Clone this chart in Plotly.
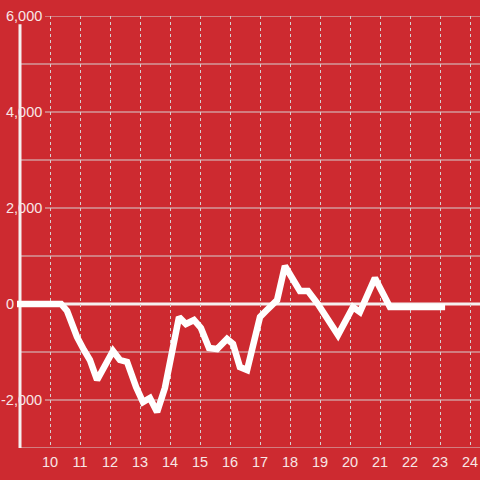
import plotly.graph_objects as go

# data (hour of day, value)
x_vals = [8.9, 10.37, 10.57, 10.9, 11.13, 11.33, 11.57, 11.8, 12.1, 12.33, 12.57, 12.87,
          13.1, 13.33, 13.57, 13.83, 14.07, 14.3, 14.53, 14.8, 15.03, 15.3, 15.57, 15.9,
          16.1, 16.33, 16.57, 17.0, 17.23, 17.57, 17.83, 18.33, 18.6, 18.93, 19.6, 20.1,
          20.33, 20.83, 21.33, 23.17]
y_vals = [0, 0, -146, -688, -958, -1167, -1583, -1313, -979, -1167, -1208, -1729,
          -2042, -1958, -2250, -1750, -1000, -271, -417, -333, -500, -917, -938, -729,
          -833, -1313, -1375, -271, -125, 83, 792, 271, 271, 0, -646, -63,
          -167, 542, -63, -63]

x_ticks = list(range(10, 25))
x_tick_labels = [str(v) for v in x_ticks]
y_label_vals = [6000, 4000, 2000, 0, -2000]
y_label_texts = ["6,000", "4,000", "2,000", "0", "-2,000"]
y_minor_vals = [5000, 3000, 1000, -1000, -3000]

BG = "#cd2a30"
TXT = "#f8e6e6"
GRID = "#d6d0d0"
FONT = "Liberation Sans, Arial, sans-serif"

X_MIN, X_MAX = 8.9, 24.333
Y_MIN, Y_MAX = -3000, 6000
AXIS_X = 9

fig = go.Figure()
fig.add_trace(go.Scatter(x=x_vals, y=y_vals, mode="lines",
                         line=dict(color="#ffffff", width=6.5), hoverinfo="skip"))

plot_left_px = 17
plot_w_px = 463


def px_to_paper(px):
    return (px - plot_left_px) / plot_w_px


shapes = []
# horizontal gridlines
for v in y_label_vals:
    if v == 0:
        continue
    shapes.append(dict(type="line", xref="paper", yref="y", x0=px_to_paper(45), x1=1,
                       y0=v, y1=v, line=dict(color=GRID, width=1), layer="below"))
for v in y_minor_vals:
    shapes.append(dict(type="line", xref="x", yref="y", x0=AXIS_X, x1=X_MAX,
                       y0=v, y1=v, line=dict(color=GRID, width=1), layer="below"))
# zero line
shapes.append(dict(type="line", xref="x", yref="y", x0=AXIS_X, x1=X_MAX, y0=0, y1=0,
                   line=dict(color="#f5f0f0", width=3), layer="below"))
# y axis line
shapes.append(dict(type="line", xref="x", yref="y", x0=AXIS_X, x1=AXIS_X,
                   y0=Y_MIN, y1=Y_MAX - 170, line=dict(color="#f5f0f0", width=3),
                   layer="below"))

annotations = []
for v, t in zip(y_label_vals, y_label_texts):
    right_px = 16 if v == 0 else 44
    annotations.append(dict(xref="paper", yref="y", x=px_to_paper(right_px), y=v,
                            text=t, showarrow=False, xanchor="right", yanchor="middle",
                            font=dict(family=FONT, size=14.5, color=TXT)))

fig.update_layout(
    width=480, height=480,
    margin=dict(l=plot_left_px, r=0, t=16, b=32),
    paper_bgcolor=BG, plot_bgcolor=BG,
    showlegend=False,
    shapes=shapes,
    annotations=annotations,
    xaxis=dict(range=[X_MIN, X_MAX], tickvals=x_ticks, ticktext=x_tick_labels,
               showgrid=True, gridcolor=GRID, griddash="dot", gridwidth=1,
               zeroline=False, showline=False, ticks="", ticklabelstandoff=3,
               tickfont=dict(family=FONT, size=14.5, color=TXT),
               fixedrange=True),
    yaxis=dict(range=[Y_MIN, Y_MAX], showgrid=False, zeroline=False, showline=False,
               showticklabels=False, ticks="", fixedrange=True),
)

fig.write_html("out.html", config={"displayModeBar": False},
               post_script="document.body.style.margin='0px';document.body.style.overflow='hidden';")
